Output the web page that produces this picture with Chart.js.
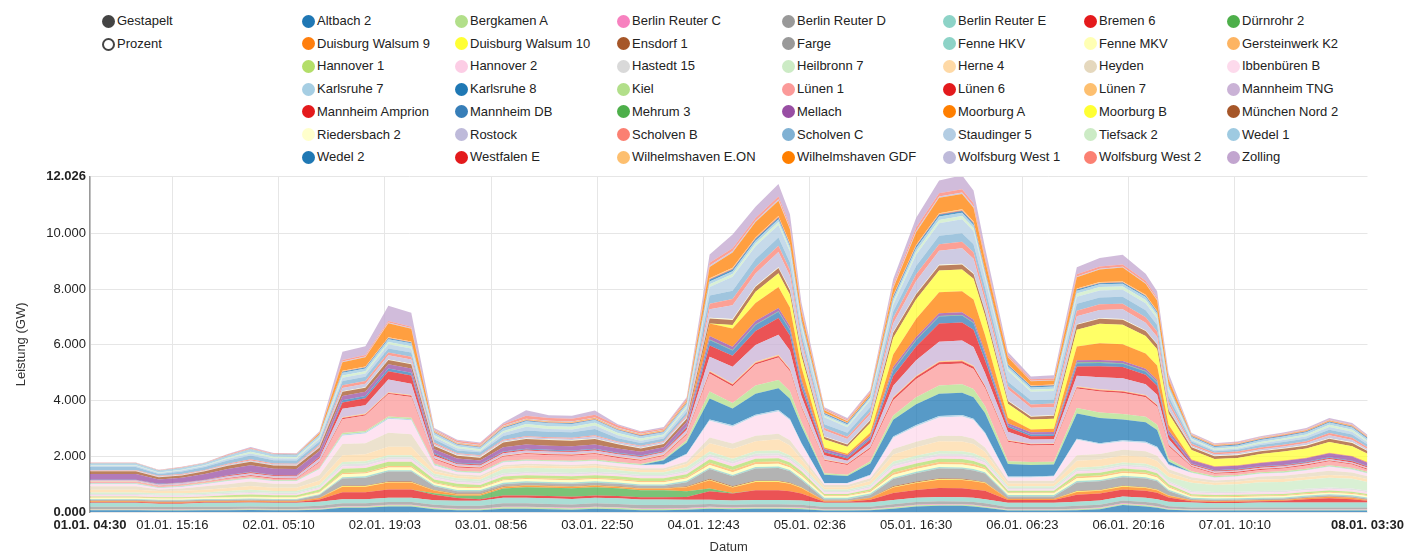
<!DOCTYPE html>
<html><head><meta charset="utf-8">
<script src="https://cdn.jsdelivr.net/npm/chart.js@4.4.1/dist/chart.umd.min.js"></script>
<style>
html,body{margin:0;padding:0;background:#fff;}
body{width:1410px;height:555px;position:relative;overflow:hidden;font-family:"Liberation Sans",Arial,sans-serif;}
.li{position:absolute;height:16px;line-height:16px;font-size:13px;color:#222;white-space:nowrap;}
.dot{display:inline-block;width:13px;height:13px;border-radius:50%;vertical-align:top;margin-top:1.5px;margin-right:2px;box-sizing:border-box;}
#c{position:absolute;left:0;top:165px;}
#warn{position:absolute;left:0;top:0;color:red;font-size:12px;}
</style></head><body>
<div id="legend"></div>
<canvas id="c" width="1410" height="390"></canvas>
<div id="warn"></div>
<script>
// ---------- DATA ----------
const modeLabels = ["Gestapelt", "Prozent"];
const xTickLabels = ["01.01. 04:30","01.01. 15:16","02.01. 05:10","02.01. 19:03","03.01. 08:56","03.01. 22:50","04.01. 12:43","05.01. 02:36","05.01. 16:30","06.01. 06:23","06.01. 20:16","07.01. 10:10","08.01. 03:30"];
const yTickValues = [0, 2, 4, 6, 8, 10, 12.026];
const yAxisTitle = "Leistung (GW)";
const xAxisTitle = "Datum";
// sample times, hours after 01.01. 04:30
const sampleHours = [0,3,6,9,12,15,18,21,24,27,30, 33,36,39,42, 45, 48,51,54,57,60,63,66,69,72,75, 78, 81,84,87,90, 91.5, 93, 96,99, 102, 105,108,111,114, 115.5, 117, 120,123,126, 129,132,135,138, 139.5, 141, 144,147,150,153,156,159,162,165,167];

const seriesNames = ["Altbach 2","Bergkamen A","Berlin Reuter C","Berlin Reuter D","Berlin Reuter E","Bremen 6","Dürnrohr 2","Duisburg Walsum 9","Duisburg Walsum 10","Ensdorf 1","Farge","Fenne HKV","Fenne MKV","Gersteinwerk K2","Hannover 1","Hannover 2","Hastedt 15","Heilbronn 7","Herne 4","Heyden","Ibbenbüren B","Karlsruhe 7","Karlsruhe 8","Kiel","Lünen 1","Lünen 6","Lünen 7","Mannheim TNG","Mannheim Amprion","Mannheim DB","Mehrum 3","Mellach","Moorburg A","Moorburg B","München Nord 2","Riedersbach 2","Rostock","Scholven B","Scholven C","Staudinger 5","Tiefsack 2","Wedel 1","Wedel 2","Westfalen E","Wilhelmshaven E.ON","Wilhelmshaven GDF","Wolfsburg West 1","Wolfsburg West 2","Zolling"];
const seriesColors = ["#1f77b4","#b2df8a","#f781bf","#999999","#8dd3c7","#e41a1c","#4daf4a","#ff7f0e","#ffff33","#a65628","#999999","#8dd3c7","#ffffb3","#fdb462","#b3de69","#fccde5","#d9d9d9","#ccebc5","#fed9a6","#e5d8bd","#fddaec","#a6cee3","#1f78b4","#b2df8a","#fb9a99","#e31a1c","#fdbf6f","#cab2d6","#e41a1c","#377eb8","#4daf4a","#984ea3","#ff7f00","#ffff33","#a65628","#ffffcc","#bebada","#fb8072","#80b1d3","#b3cde3","#ccebc5","#9ecae1","#1f78b4","#e31a1c","#fdbf6f","#ff7f00","#bebada","#fb8072","#c2a5cf"];

const altbach2 = [.06,.06,.06,.05,.05,.06,.06,.07,.06,.06,.08, .15,.15,.2,.2, .1, .06,.06,.12,.12,.1,.08,.12,.1,.06,.06, .08, .12,.1,.12,.12, .11, .1, .05,.05, .06, .12,.2,.22,.22, .2, .15, .05,.05,.05, .06,.1,.25,.2, .15, .08, .05,.05,.05,.05,.05,.05,.05,.05,.05];
const bergkamenA = [.03,.03,.03,.03,.03,.03,.03,.03,.03,.03,.03, .04,.04,.04,.04, .04, .04,.04,.05,.05,.05,.05,.05,.05,.05,.05, .04, .04,.04,.04,.04, .04, .04, .03,.03, .03, .04,.04,.04,.04, .04, .04, .03,.03,.03, .04,.04,.04,.04, .04, .03, .03,.03,.03,.03,.03,.03,.03,.03,.03];
const berlinReuterC = [.02,.02,.02,.02,.02,.02,.02,.02,.02,.02,.02, .02,.02,.02,.02, .02, .02,.02,.02,.02,.02,.02,.02,.02,.02,.02, .02, .03,.02,.02,.02, .02, .02, .02,.02, .02, .02,.02,.03,.02, .02, .02, .02,.02,.02, .02,.02,.02,.02, .02, .02, .02,.02,.02,.02,.02,.02,.02,.02,.02];
const berlinReuterD = [.08,.08,.08,.08,.08,.08,.08,.08,.08,.08,.09, .1,.1,.1,.1, .1, .1,.1,.12,.12,.12,.12,.12,.12,.12,.12, .12, .1,.1,.1,.1, .1, .1, .08,.08, .08, .1,.1,.1,.1, .1, .1, .08,.08,.08, .1,.1,.1,.1, .1, .08, .06,.06,.06,.06,.06,.06,.06,.06,.06];
const berlinReuterE = [.14,.14,.14,.12,.12,.14,.14,.14,.14,.14,.15, .15,.15,.15,.15, .16, .18,.18,.2,.2,.2,.2,.2,.2,.2,.2, .18, .15,.15,.15,.15, .15, .15, .15,.15, .15, .15,.15,.15,.15, .15, .15, .15,.15,.15, .15,.15,.15,.15, .15, .16, .18,.15,.16,.18,.18,.18,.18,.18,.18];
const bremen6 = [.03,.03,.03,.03,.03,.03,.03,.03,.03,.03,.08, .25,.25,.3,.3, .2, .1,.06,.08,.08,.08,.08,.08,.08,.08,.08, .1, .3,.25,.35,.35, .32, .25, .04,.04, .1, .25,.28,.32,.32, .3, .3, .1,.1,.1, .25,.25,.25,.25, .23, .15, .05,.05,.05,.05,.06,.12,.15,.12,.06];
const duernrohr2 = [0,0,0,0,0,0,0,0,0,0,0, 0,0,0,0, .05, .08,.12,.25,.3,.3,.3,.3,.28,.25,.25, .2, .1,.02,0,0, 0, 0, 0,0, 0, 0,0,0,0, 0, 0, 0,0,0, 0,0,0,0, 0, 0, 0,0,0,0,0,0,0,0,0];
const duisburgWalsum9 = [.03,.03,.03,.03,.03,.03,.03,.03,.03,.03,.05, .2,.2,.25,.25, .1, .05,.05,.05,.05,.05,.05,.05,.05,.05,.05, .15, .3,.2,.3,.3, .27, .2, .03,.03, .06, .2,.25,.3,.3, .29, .28, .04,.04,.04, .1,.1,.1,.1, .09, .06, .03,.03,.03,.03,.03,.04,.06,.05,.03];
const duisburgWalsum10 = [0,0,0,0,0,0,0,0,0,0,0, .02,.02,.02,.02, .01, .01,.01,.01,.01,.01,.01,.01,.01,.01,.01, .01, .02,.02,.02,.02, .02, .02, 0,0, 0, .02,.02,.02,.02, .02, .02, 0,0,0, .02,.02,.02,.02, .02, .01, 0,0,0,0,0,0,0,0,0];
const ensdorf1 = [.01,.01,.01,.01,.01,.01,.01,.01,.01,.01,.01, .02,.02,.02,.02, .02, .02,.02,.02,.02,.02,.02,.02,.02,.02,.02, .02, .03,.03,.03,.03, .03, .02, .01,.01, .01, .03,.03,.03,.03, .03, .02, .01,.01,.01, .02,.02,.02,.02, .02, .01, .01,.01,.01,.01,.01,.01,.01,.01,.01];
const farge = [.04,.04,.04,.04,.04,.04,.04,.04,.04,.04,.1, .25,.28,.35,.35, .12, .08,.08,.08,.08,.08,.08,.08,.08,.08,.08, .15, .35,.35,.43,.45, .4, .25, .05,.05, .1, .25,.3,.35,.35, .34, .3, .08,.08,.08, .3,.3,.3,.3, .28, .15, .04,.04,.04,.04,.04,.04,.04,.04,.04];
const fenneHKV = [.03,.03,.03,.03,.03,.03,.03,.03,.03,.03,.03, .05,.05,.05,.05, .05, .05,.05,.05,.05,.05,.05,.05,.05,.05,.05, .05, .05,.05,.05,.05, .05, .05, .05,.05, .05, .05,.05,.05,.05, .05, .05, .05,.05,.05, .05,.05,.05,.05, .05, .05, .04,.04,.04,.04,.04,.04,.04,.04,.04];
const fenneMKV = [.04,.04,.04,.04,.04,.04,.05,.05,.05,.05,.06, .1,.1,.1,.1, .06, .08,.06,.08,.08,.08,.08,.08,.08,.08,.08, .08, .1,.1,.1,.1, .09, .1, .06,.06, .06, .1,.1,.1,.1, .1, .1, .06,.06,.06, .1,.1,.1,.1, .09, .08, .05,.05,.05,.05,.05,.05,.05,.05,.05];
const gersteinwerkK2 = [.02,.02,.02,.02,.02,.02,.02,.02,.02,.02,.03, .05,.05,.05,.05, .04, .04,.04,.04,.04,.04,.04,.04,.04,.04,.04, .05, .08,.08,.08,.08, .07, .06, .03,.03, .04, .08,.08,.08,.08, .08, .06, .03,.03,.03, .06,.06,.06,.06, .06, .04, .03,.03,.03,.03,.03,.03,.03,.03,.03];
const hannover1 = [.03,.03,.03,.03,.03,.03,.06,.08,.06,.06,.08, .15,.15,.15,.15, .1, .1,.08,.1,.1,.1,.1,.1,.1,.1,.1, .1, .12,.12,.12,.12, .11, .1, .05,.05, .06, .12,.12,.12,.12, .11, .1, .06,.06,.06, .1,.1,.1,.1, .09, .08, .05,.05,.05,.05,.05,.05,.05,.05,.05];
const hannover2 = [.05,.05,.05,.05,.05,.05,.05,.05,.05,.05,.05, .08,.08,.08,.08, .06, .06,.06,.06,.06,.06,.06,.06,.06,.06,.06, .08, .1,.1,.1,.1, .09, .08, .05,.05, .06, .1,.1,.1,.1, .1, .08, .05,.05,.05, .08,.08,.08,.08, .07, .06, .06,.06,.06,.06,.06,.06,.06,.06,.06];
const hastedt15 = [.04,.04,.04,.04,.04,.04,.04,.04,.04,.04,.04, .08,.08,.08,.08, .06, .06,.06,.06,.06,.06,.06,.06,.06,.06,.06, .06, .08,.08,.08,.08, .07, .07, .05,.05, .05, .08,.08,.08,.08, .08, .07, .05,.05,.05, .06,.06,.06,.06, .06, .05, .05,.05,.05,.05,.05,.05,.05,.05,.05];
const heilbronn7 = [.05,.05,.05,.05,.05,.05,.06,.08,.06,.06,.08, .08,.08,.08,.08, .08, .08,.08,.15,.15,.15,.15,.15,.1,.1,.1, .12, .1,.1,.1,.1, .09, .08, .06,.06, .06, .1,.1,.1,.1, .1, .08, .06,.06,.06, .08,.08,.08,.08, .08, .15, .3,.25,.27,.32,.32,.33,.35,.35,.32];
const herne4 = [.1,.1,.1,.08,.09,.1,.11,.13,.12,.12,.15, .25,.25,.3,.3, .1, .08,.08,.08,.08,.08,.08,.08,.08,.08,.08, .12, .3,.35,.35,.4, .36, .2, .08,.08, .12, .25,.3,.35,.35, .33, .24, .1,.1,.1, .25,.25,.25,.25, .23, .15, .1,.08,.09,.1,.1,.1,.1,.1,.1];
const heyden = [.12,.12,.12,.06,.08,.12,.14,.16,.14,.14,.2, .4,.4,.5,.45, .1, .06,.06,.06,.06,.06,.06,.06,.06,.06,.06, .08, .2,.2,.2,.2, .18, .15, .08,.08, .1, .2,.2,.2,.2, .19, .15, .1,.1,.1, .2,.2,.2,.2, .19, .12, .1,.08,.08,.1,.12,.13,.15,.13,.1];
const ibbenbuerenB = [.08,.08,.08,.04,.06,.08,.1,.1,.09,.09,.2, .3,.35,.5,.5, .1, .08,.08,.1,.1,.1,.1,.1,.1,.1,.12, .25, .6,.6,.7,.8, .72, .4, .05,.05, .1, .4,.55,.65,.7, .67, .5, .12,.12,.15, .55,.35,.3,.3, .28, .15, .15,.1,.1,.1,.1,.1,.14,.1,.1];
const karlsruhe7 = [.02,.02,.02,.02,.02,.02,.02,.02,.02,.02,.02, .04,.04,.04,.04, .03, .02,.02,.02,.02,.02,.02,.02,.02,.02,.02, .03, .05,.05,.05,.05, .05, .04, .02,.02, .03, .05,.05,.05,.05, .05, .04, .03,.03,.03, .04,.04,.04,.04, .04, .03, .02,.02,.02,.02,.02,.02,.02,.02,.02];
const karlsruhe8 = [0,0,0,0,0,0,0,0,0,0,0, 0,0,0,0, 0, 0,0,0,0,0,0,0,0,0,.15, .4, .75,.6,.75,.78, .72, .6, .3,.25, .4, .6,.75,.8,.8, .77, .7, .45,.42,.4, .9,.9,.75,.7, .6, .1, 0,0,0,0,0,0,0,0,0];
const kiel = [.02,.02,.02,.02,.02,.02,.03,.03,.03,.03,.03, .05,.05,.05,.05, .04, .03,.03,.03,.03,.03,.03,.03,.03,.03,.03, .08, .25,.2,.3,.3, .27, .15, .05,.05, .08, .15,.25,.3,.3, .29, .25, .1,.1,.1, .2,.2,.2,.2, .19, .1, .04,.04,.04,.04,.04,.04,.04,.04,.04];
const luenen1 = [.03,.03,.03,.03,.03,.03,.04,.05,.04,.04,.2, .5,.55,.8,.75, .15, .12,.12,.15,.2,.18,.18,.2,.15,.12,.12, .2, .65,.6,.75,.8, .72, .5, .45,.35, .45, .55,.65,.75,.75, .72, .65, .7,.6,.6, .7,.75,.75,.7, .65, .45, .15,.08,.08,.08,.1,.12,.14,.12,.08];
const luenen6 = [.01,.01,.01,.01,.01,.01,.02,.03,.03,.02,.02, .04,.04,.04,.04, .03, .03,.03,.03,.03,.03,.03,.03,.03,.03,.03, .04, .06,.06,.06,.06, .05, .05, .03,.03, .04, .08,.08,.08,.08, .08, .06, .04,.04,.04, .05,.05,.05,.05, .05, .04, .03,.03,.03,.03,.03,.03,.03,.03,.03];
const luenen7 = [.01,.01,.01,.01,.01,.01,.01,.01,.01,.01,.01, .03,.03,.03,.03, .02, .02,.02,.02,.02,.02,.02,.02,.02,.02,.02, .02, .04,.04,.04,.04, .04, .03, .02,.02, .02, .04,.04,.04,.04, .04, .03, .02,.02,.02, .03,.03,.03,.03, .03, .02, .01,.01,.01,.01,.01,.01,.01,.01,.01];
const mannheimTNG = [.05,.05,.05,.05,.05,.05,.06,.06,.06,.06,.12, .3,.3,.45,.4, .08, .06,.06,.08,.08,.08,.08,.08,.08,.08,.08, .12, .5,.6,.6,.72, .65, .35, .15,.1, .15, .4,.55,.7,.7, .67, .45, .3,.15,.15, .38,.43,.45,.38, .35, .2, .04,.04,.04,.04,.04,.04,.04,.04,.04];
const mannheimAmprion = [.01,.01,.01,.01,.01,.01,.03,.04,.03,.03,.05, .23,.25,.3,.3, .05, .03,.03,.03,.03,.03,.03,.03,.03,.03,.03, .08, .4,.4,.5,.6, .54, .3, .1,.08, .12, .35,.5,.65,.65, .62, .45, .16,.12,.12, .33,.4,.4,.34, .32, .15, .03,.03,.03,.03,.03,.03,.04,.04,.03];
const mannheimDB = [.01,.01,.01,.01,.01,.01,.01,.01,.01,.01,.01, .08,.08,.1,.1, .05, .03,.03,.03,.03,.03,.03,.03,.03,.03,.03, .05, .2,.18,.22,.22, .2, .18, .04,.04, .06, .2,.22,.25,.25, .24, .2, .06,.06,.06, .12,.12,.12,.12, .11, .06, .02,.02,.02,.02,.02,.02,.02,.02,.02];
const mehrum3 = [0,0,0,0,0,0,0,0,0,0,0, 0,0,0,0, 0, 0,0,0,0,0,0,0,0,0,0, 0, .02,.02,.02,.02, .02, .01, 0,0, 0, .02,.02,.02,.02, .02, .01, 0,0,0, .02,.02,.02,.02, .02, 0, 0,0,0,0,0,0,0,0,0];
const mellach = [.2,.2,.2,.16,.17,.2,.22,.24,.22,.22,.2, .15,.15,.15,.15, .13, .15,.12,.15,.15,.15,.15,.15,.15,.13,.12, .15, .12,.12,.12,.12, .11, .1, .08,.08, .08, .1,.1,.1,.1, .1, .1, .08,.08,.08, .08,.08,.08,.08, .08, .1, .12,.12,.12,.12,.14,.13,.15,.15,.12];
const moorburgA = [0,0,0,0,0,0,0,0,0,0,0, 0,0,0,0, 0, 0,0,0,0,0,0,0,0,0,0, 0, .45,.65,.65,.75, .68, .45, .05,.05, .1, .45,.65,.75,.75, .72, .6, .2,.1,.12, .5,.6,.6,.55, .52, .2, .02,.02,.02,.02,.02,.02,.02,.02,.02];
const moorburgB = [0,0,0,0,0,0,0,0,0,0,0, 0,0,0,0, 0, 0,0,0,0,0,0,0,0,0,0, 0, 0,.13,.4,.5, .45, .4, .3,.25, .35, .6,.7,.78,.78, .75, .7, .5,.36,.36, .6,.7,.7,.62, .58, .4, .34,.26,.26,.3,.32,.33,.38,.35,.3];
const muenchenNord2 = [.1,.1,.1,.08,.08,.1,.12,.12,.12,.12,.12, .15,.15,.15,.15, .12, .1,.1,.17,.2,.2,.2,.2,.15,.12,.12, .12, .18,.18,.18,.18, .16, .15, .08,.08, .1, .18,.18,.18,.18, .17, .15, .1,.1,.1, .18,.18,.18,.18, .17, .12, .1,.1,.1,.1,.1,.1,.12,.12,.1];
const riedersbach2 = [.01,.01,.01,.01,.01,.01,.01,.01,.01,.01,.01, .02,.02,.02,.02, .02, .02,.02,.02,.02,.02,.02,.02,.02,.02,.02, .02, .03,.03,.03,.03, .03, .02, .02,.02, .02, .03,.03,.03,.03, .03, .02, .02,.02,.02, .02,.02,.02,.02, .02, .02, .02,.02,.02,.02,.02,.02,.02,.02,.02];
const rostock = [.02,.02,.02,.02,.02,.02,.03,.04,.03,.03,.05, .12,.12,.15,.15, .05, .04,.04,.05,.05,.05,.05,.08,.05,.05,.05, .06, .3,.5,.45,.55, .5, .3, .22,.18, .2, .3,.45,.5,.55, .52, .35, .4,.3,.3, .28,.3,.35,.28, .26, .2, .05,.05,.05,.05,.06,.08,.1,.08,.05];
const scholvenB = [.02,.02,.02,.02,.02,.02,.03,.04,.03,.03,.04, .1,.1,.1,.1, .05, .03,.03,.03,.03,.03,.03,.03,.03,.03,.03, .05, .2,.22,.22,.22, .2, .13, .08,.08, .1, .2,.24,.24,.24, .23, .2, .12,.12,.12, .2,.2,.2,.2, .19, .12, .06,.06,.06,.06,.06,.06,.08,.08,.06];
const scholvenC = [.1,.1,.1,.06,.09,.1,.12,.14,.12,.12,.12, .15,.15,.15,.15, .12, .1,.1,.14,.2,.2,.2,.23,.12,.1,.1, .12, .3,.3,.3,.3, .27, .2, .14,.14, .15, .23,.3,.3,.3, .29, .28, .15,.15,.15, .25,.25,.25,.25, .23, .15, .08,.05,.06,.09,.1,.1,.12,.12,.1];
const staudinger5 = [.05,.05,.05,.04,.05,.05,.06,.07,.07,.07,.1, .12,.12,.15,.15, .08, .08,.05,.1,.14,.1,.1,.12,.1,.08,.08, .12, .3,.5,.45,.45, .4, .25, .25,.2, .25, .25,.4,.45,.5, .47, .35, .4,.3,.3, .25,.25,.25,.25, .23, .2, .05,.04,.05,.06,.07,.08,.1,.1,.08];
const tiefsack2 = [.02,.02,.02,.02,.02,.02,.04,.06,.05,.05,.05, .08,.08,.08,.08, .06, .06,.06,.07,.1,.1,.1,.1,.08,.08,.06, .08, .1,.1,.1,.1, .09, .1, .05,.05, .06, .1,.12,.12,.12, .11, .1, .08,.08,.08, .12,.12,.12,.12, .11, .08, .05,.05,.05,.05,.06,.06,.08,.07,.06];
const wedel1 = [.05,.05,.05,.05,.05,.05,.06,.08,.07,.07,.08, .1,.1,.1,.1, .08, .06,.06,.1,.1,.1,.1,.1,.1,.08,.08, .08, .1,.1,.1,.1, .09, .1, .06,.06, .06, .12,.12,.12,.12, .11, .1, .08,.08,.08, .1,.1,.1,.1, .09, .08, .06,.06,.06,.07,.07,.08,.08,.08,.07];
const wedel2 = [.01,.01,.01,.01,.01,.01,.01,.01,.01,.01,.01, .03,.03,.03,.03, .02, .02,.02,.02,.02,.02,.02,.02,.02,.02,.02, .03, .06,.06,.06,.06, .05, .05, .03,.03, .03, .06,.06,.06,.06, .06, .05, .04,.04,.04, .04,.04,.04,.04, .04, .03, .03,.03,.03,.03,.03,.03,.03,.03,.03];
const westfalenE = [0,0,0,0,0,0,0,0,0,0,0, .01,.01,.01,.01, .01, .01,.01,.01,.01,.01,.01,.01,.01,.01,.01, .01, .02,.02,.02,.02, .02, .02, .01,.01, .01, .02,.02,.02,.02, .02, .02, .01,.01,.01, .01,.01,.01,.01, .01, .01, .01,.01,.01,.01,.01,.01,.01,.01,.01];
const wilhelmshavenEON = [.01,.01,.01,.01,.01,.01,.01,.01,.01,.01,.01, .03,.03,.03,.03, .02, .02,.02,.02,.02,.02,.02,.02,.02,.02,.02, .02, .04,.04,.04,.04, .04, .03, .02,.02, .02, .04,.04,.04,.04, .04, .03, .02,.02,.02, .03,.03,.03,.03, .03, .02, .01,.01,.01,.01,.01,.01,.01,.01,.01];
const wilhelmshavenGDF = [0,0,0,0,0,0,0,0,0,0,.05, .3,.33,.5,.45, .03, .02,.02,.02,.02,.02,.02,.02,.02,.02,.02, .05, .4,.55,.55,.55, .5, .25, .08,.05, .07, .25,.45,.55,.55, .5, .35, .25,.15,.15, .4,.45,.5,.4, .37, .2, .02,.02,.02,.02,.02,.02,.02,.02,.02];
const wolfsburgWest1 = [.01,.01,.01,.01,.01,.01,.01,.01,.01,.01,.01, .03,.03,.03,.03, .02, .02,.02,.02,.02,.02,.02,.02,.02,.02,.02, .02, .05,.05,.05,.05, .05, .04, .02,.02, .02, .05,.05,.05,.05, .05, .04, .02,.02,.02, .03,.03,.03,.03, .03, .02, .02,.02,.02,.02,.02,.02,.02,.02,.02];
const wolfsburgWest2 = [.01,.01,.01,.01,.01,.01,.02,.03,.02,.02,.02, .05,.05,.05,.05, .03, .06,.06,.06,.1,.1,.1,.1,.08,.05,.05, .06, .1,.1,.1,.1, .09, .08, .04,.04, .05, .08,.12,.12,.12, .11, .1, .05,.05,.05, .08,.08,.08,.08, .07, .05, .02,.02,.02,.02,.02,.02,.02,.02,.02];
const zolling = [.01,.01,.01,.01,.01,.01,.02,.03,.02,.02,.04, .3,.32,.55,.5, .05, .03,.03,.05,.2,.1,.1,.15,.05,.04,.05, .05, .3,.5,.4,.45, .4, .2, .05,.05, .05, .2,.35,.45,.5, .45, .3, .12,.1,.12, .25,.3,.35,.25, .23, .15, .03,.03,.03,.03,.03,.04,.05,.05,.03];

const seriesData = [altbach2,bergkamenA,berlinReuterC,berlinReuterD,berlinReuterE,bremen6,duernrohr2,duisburgWalsum9,duisburgWalsum10,ensdorf1,farge,fenneHKV,fenneMKV,gersteinwerkK2,hannover1,hannover2,hastedt15,heilbronn7,herne4,heyden,ibbenbuerenB,karlsruhe7,karlsruhe8,kiel,luenen1,luenen6,luenen7,mannheimTNG,mannheimAmprion,mannheimDB,mehrum3,mellach,moorburgA,moorburgB,muenchenNord2,riedersbach2,rostock,scholvenB,scholvenC,staudinger5,tiefsack2,wedel1,wedel2,westfalenE,wilhelmshavenEON,wilhelmshavenGDF,wolfsburgWest1,wolfsburgWest2,zolling];

// ---------- sanity ----------
const bad = seriesData.map((a,k)=>a.length!==sampleHours.length ? seriesNames[k]+':'+a.length : null).filter(Boolean);
if (bad.length) document.getElementById('warn').textContent = 'LEN ' + sampleHours.length + ' ' + bad.join(', ');

// ---------- LEGEND (HTML) ----------
const legendColX = [302, 455, 617, 782, 943, 1084, 1227];
const legendEl = document.getElementById('legend');
function addItem(x, yc, color, text, hollow) {
  const d = document.createElement('div'); d.className = 'li';
  d.style.left = x + 'px'; d.style.top = (yc - 8) + 'px';
  const s = document.createElement('span'); s.className = 'dot';
  if (hollow) s.style.border = '2px solid ' + color; else s.style.background = color;
  d.appendChild(s); d.appendChild(document.createTextNode(text));
  legendEl.appendChild(d);
}
addItem(102, 21, '#444', modeLabels[0], false);
addItem(102, 44, '#444', modeLabels[1], true);
seriesNames.forEach((n, k) => addItem(legendColX[k % 7], 21 + Math.floor(k / 7) * 22.7, seriesColors[k], n, false));

// ---------- CHART ----------
function rgba(hex, a) {
  const r = parseInt(hex.slice(1,3),16), g = parseInt(hex.slice(3,5),16), b = parseInt(hex.slice(5,7),16);
  return `rgba(${r},${g},${b},${a})`;
}
function labelToHours(s) {
  const day = parseInt(s.slice(0,2),10), hh = parseInt(s.slice(7,9),10), mm = parseInt(s.slice(10,12),10);
  return (day - 1) * 24 + hh + mm / 60 - 4.5;
}
const xTickValues = xTickLabels.map(labelToHours);

Chart.defaults.font.family = '"Liberation Sans", Arial, sans-serif';
Chart.defaults.font.size = 13;
Chart.defaults.color = '#333';

const datasets = seriesData.map((arr, k) => ({
  label: seriesNames[k],
  data: arr.map((v, i) => ({ x: sampleHours[i], y: v })),
  backgroundColor: rgba(seriesColors[k], 0.75),
  borderColor: 'rgba(0,0,0,0)',
  borderWidth: 0,
  pointRadius: 0,
  tension: 0,
  fill: k === 0 ? 'origin' : '-1'
}));

const lastX = xTickLabels.length - 1, lastY = yTickValues.length - 1;
new Chart(document.getElementById('c').getContext('2d'), {
  type: 'line',
  data: { datasets },
  options: {
    responsive: false, animation: false, devicePixelRatio: 1,
    layout: { padding: { left: 0, right: 41, top: 10, bottom: 0 } },
    plugins: { legend: { display: false }, tooltip: { enabled: false } },
    elements: { line: { borderWidth: 0 } },
    scales: {
      x: {
        type: 'linear', min: 0, max: 167,
        grid: { color: (c) => c.index === lastX ? 'rgba(0,0,0,0)' : '#e6e6e6', drawTicks: false },
        border: { display: false },
        afterBuildTicks: (axis) => { axis.ticks = xTickValues.map(v => ({ value: v })); },
        afterFit: (s) => { s.height = 43; },
        ticks: {
          autoSkip: false, maxRotation: 0, padding: 6, color: '#222',
          font: (c) => ({ size: 13, weight: (c.index === 0 || c.index === lastX) ? 'bold' : 'normal' }),
          callback: (v, i) => xTickLabels[i]
        },
        title: { display: true, text: xAxisTitle, color: '#333', font: { size: 13 }, padding: { top: 0, bottom: 0 } }
      },
      y: {
        stacked: true, min: 0, max: 12.026,
        grid: { color: '#e6e6e6', drawTicks: false },
        border: { display: true, color: '#999', width: 1.5 },
        afterBuildTicks: (axis) => { axis.ticks = yTickValues.map(v => ({ value: v })); },
        afterFit: (s) => { s.width = 90; },
        ticks: {
          padding: 4, color: '#222',
          font: (c) => ({ size: 13, weight: (c.index === 0 || c.index === lastY) ? 'bold' : 'normal' }),
          callback: (v) => Number(v).toFixed(3)
        },
        title: { display: true, text: yAxisTitle, color: '#333', font: { size: 13 }, padding: { top: 14, bottom: 0 } }
      }
    }
  }
});
</script>
</body></html>
